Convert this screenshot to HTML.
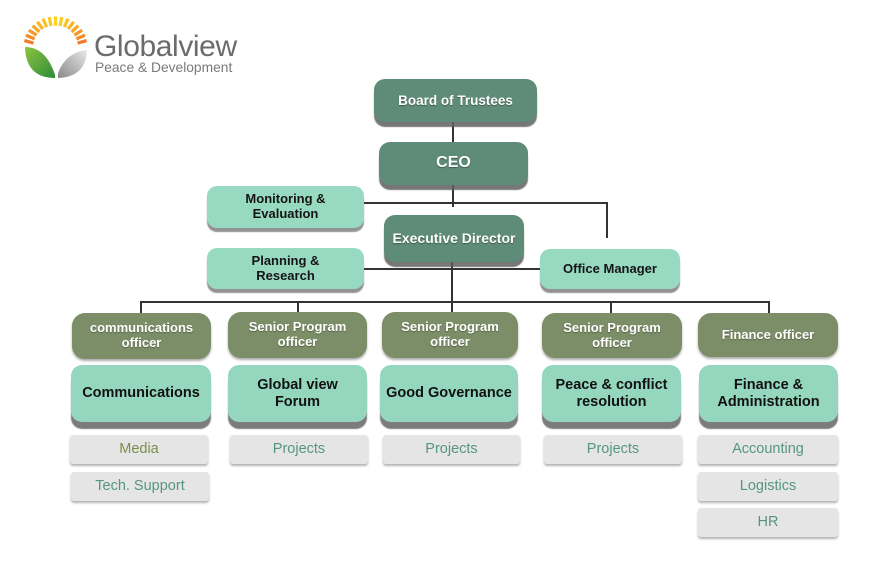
<!DOCTYPE html>
<html><head><meta charset="utf-8">
<style>
html,body{margin:0;padding:0;background:#fff;}
body{width:876px;height:581px;position:relative;overflow:hidden;font-family:"Liberation Sans",Arial,sans-serif;}
.b{position:absolute;display:flex;align-items:center;justify-content:center;text-align:center;font-weight:bold;box-sizing:border-box;line-height:1.15;}
.dk{background:#5f8b79;color:#fff;border-radius:11px;box-shadow:0 5px 1px rgba(95,95,95,0.85);font-size:14px;text-shadow:0 1px 1px rgba(0,0,0,0.35);}
.sd{background:#98dac1;color:#141414;border-radius:10px;box-shadow:0 4px 1px rgba(120,120,120,0.8);font-size:13px;}
.ol{background:#7c8e67;color:#fff;border-radius:13px;box-shadow:0 2px 2px rgba(90,90,90,0.5);font-size:13px;text-shadow:0 1px 1px rgba(0,0,0,0.3);}
.tl{background:#94d7be;color:#111;border-radius:11px;box-shadow:0 7px 1px rgba(110,110,110,0.9);font-size:14.5px;}
.gr{background:#e5e5e5;color:#55977d;border-radius:3px;box-shadow:0 2px 2px rgba(0,0,0,0.3);font-size:14.5px;font-weight:normal;}
.l{position:absolute;background:#333;}
</style></head><body>

<!-- logo -->
<svg style="position:absolute;left:0;top:0" width="260" height="90" viewBox="0 0 260 90">
  <defs>
    <linearGradient id="gg" x1="0" y1="0" x2="1" y2="1">
      <stop offset="0" stop-color="#8cc43f"/><stop offset="1" stop-color="#2f8a3a"/>
    </linearGradient>
    <linearGradient id="gy" x1="1" y1="0" x2="0" y2="1">
      <stop offset="0" stop-color="#e8e8e8"/><stop offset="1" stop-color="#8a8a8a"/>
    </linearGradient>
  </defs>
  <g stroke-width="3.2" stroke-linecap="butt">
    <line x1="33.4" y1="43.1" x2="24.4" y2="40.6" stroke="#f07a2a"/>
    <line x1="34.6" y1="38.9" x2="26.0" y2="35.2" stroke="#f28a28"/>
    <line x1="36.6" y1="35.1" x2="28.8" y2="30.2" stroke="#f49a26"/>
    <line x1="39.4" y1="31.8" x2="32.6" y2="25.7" stroke="#f6a824"/>
    <line x1="42.8" y1="29.1" x2="37.4" y2="21.8" stroke="#f8b622"/>
    <line x1="46.7" y1="27.2" x2="43.0" y2="18.7" stroke="#fac222"/>
    <line x1="51.0" y1="26.0" x2="49.2" y2="17.0" stroke="#fccc22"/>
    <line x1="55.5" y1="25.6" x2="55.5" y2="16.4" stroke="#fdd422"/>
    <line x1="60.0" y1="26.0" x2="61.8" y2="17.0" stroke="#fccc22"/>
    <line x1="64.3" y1="27.2" x2="68.0" y2="18.7" stroke="#fac222"/>
    <line x1="68.2" y1="29.1" x2="73.6" y2="21.8" stroke="#f8b622"/>
    <line x1="71.6" y1="31.8" x2="78.4" y2="25.7" stroke="#f6a824"/>
    <line x1="74.4" y1="35.1" x2="82.2" y2="30.2" stroke="#f49a26"/>
    <line x1="76.4" y1="38.9" x2="85.0" y2="35.2" stroke="#f28a28"/>
    <line x1="77.6" y1="43.1" x2="86.6" y2="40.6" stroke="#f07a2a"/>
  </g>
  <path d="M25,47 Q46,47 55,75 L55,78 Q26,78 25,47 Z" fill="url(#gg)"/>
  <path d="M58,78 Q86,77 87,50 Q66,52 58,73 Z" fill="url(#gy)"/>
  <text x="94" y="56" font-family="Liberation Sans, Arial, sans-serif" font-size="30" fill="#6b6b6b" letter-spacing="-0.4">Globalview</text>
  <text x="95" y="72" font-family="Liberation Sans, Arial, sans-serif" font-size="13.8" fill="#7a7a7a">Peace &amp; Development</text>
</svg>

<!-- connectors -->
<div class="l" style="left:452px;top:121px;width:2px;height:22px"></div>
<div class="l" style="left:452px;top:185px;width:2px;height:22px"></div>
<div class="l" style="left:364px;top:202px;width:244px;height:2px"></div>
<div class="l" style="left:606px;top:202px;width:2px;height:36px"></div>
<div class="l" style="left:364px;top:268px;width:176px;height:2px"></div>
<div class="l" style="left:451px;top:262px;width:2px;height:41px"></div>
<div class="l" style="left:140px;top:301px;width:630px;height:2px"></div>
<div class="l" style="left:140px;top:301px;width:2px;height:12px"></div>
<div class="l" style="left:297px;top:301px;width:2px;height:12px"></div>
<div class="l" style="left:451px;top:301px;width:2px;height:12px"></div>
<div class="l" style="left:610px;top:301px;width:2px;height:12px"></div>
<div class="l" style="left:768px;top:301px;width:2px;height:12px"></div>

<!-- top -->
<div class="b dk" style="left:374px;top:79px;width:163px;height:43px;font-size:13.5px">Board of Trustees</div>
<div class="b dk" style="left:379px;top:142px;width:149px;height:43px;font-size:16px">CEO</div>
<div class="b dk" style="left:384px;top:215px;width:140px;height:47px;font-size:14px">Executive Director</div>

<div class="b sd" style="left:207px;top:186px;width:157px;height:42px">Monitoring &amp;<br>Evaluation</div>
<div class="b sd" style="left:207px;top:248px;width:157px;height:41px">Planning &amp;<br>Research</div>
<div class="b sd" style="left:540px;top:249px;width:140px;height:40px">Office Manager</div>

<!-- officers -->
<div class="b ol" style="left:72px;top:313px;width:139px;height:46px">communications<br>officer</div>
<div class="b ol" style="left:228px;top:312px;width:139px;height:46px">Senior Program<br>officer</div>
<div class="b ol" style="left:382px;top:312px;width:136px;height:46px">Senior Program<br>officer</div>
<div class="b ol" style="left:542px;top:313px;width:140px;height:45px">Senior Program<br>officer</div>
<div class="b ol" style="left:698px;top:313px;width:140px;height:44px">Finance officer</div>

<!-- departments -->
<div class="b tl" style="left:71px;top:365px;width:140px;height:57px">Communications</div>
<div class="b tl" style="left:228px;top:365px;width:139px;height:57px">Global view<br>Forum</div>
<div class="b tl" style="left:380px;top:365px;width:138px;height:57px">Good Governance</div>
<div class="b tl" style="left:542px;top:365px;width:139px;height:57px">Peace &amp; conflict<br>resolution</div>
<div class="b tl" style="left:699px;top:365px;width:139px;height:57px">Finance &amp;<br>Administration</div>

<!-- gray -->
<div class="b gr" style="left:70px;top:435px;width:138px;height:29px;color:#7a8e4c">Media</div>
<div class="b gr" style="left:71px;top:472px;width:138px;height:29px">Tech. Support</div>
<div class="b gr" style="left:230px;top:435px;width:138px;height:29px">Projects</div>
<div class="b gr" style="left:383px;top:435px;width:137px;height:29px">Projects</div>
<div class="b gr" style="left:544px;top:435px;width:138px;height:29px">Projects</div>
<div class="b gr" style="left:698px;top:435px;width:140px;height:29px">Accounting</div>
<div class="b gr" style="left:698px;top:472px;width:140px;height:29px">Logistics</div>
<div class="b gr" style="left:698px;top:508px;width:140px;height:29px">HR</div>

</body></html>
